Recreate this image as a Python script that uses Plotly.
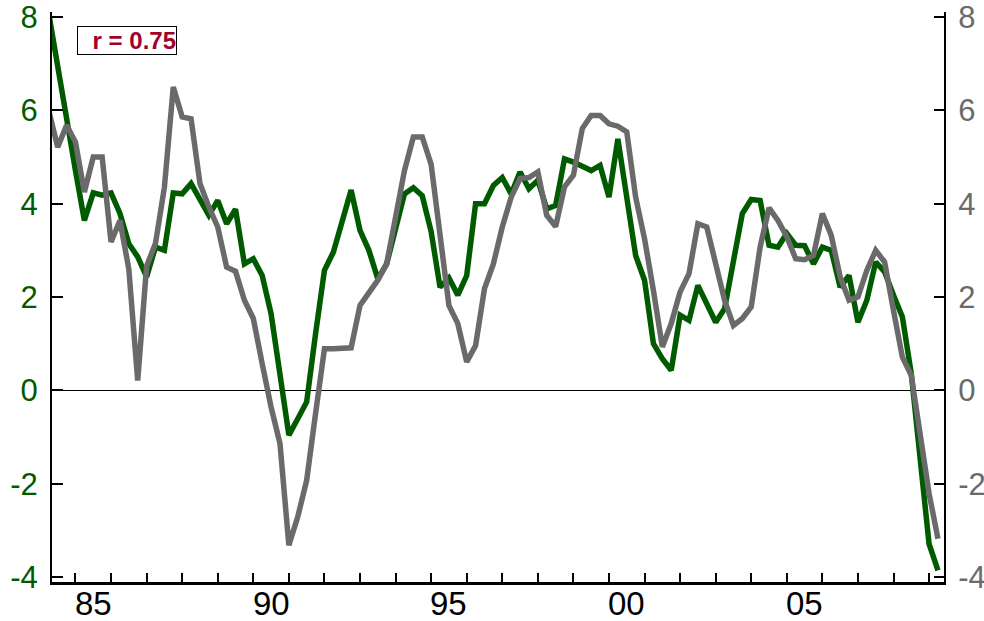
import plotly.graph_objects as go

# Quarterly dates (first point lies just left of the visible range)
quarters = [1984.25 + 0.25 * i for i in range(101)]

green_series = [
    8.07, 6.9, 5.8, 4.71, 3.64, 4.23, 4.18, 4.23, 3.79, 3.14,
    2.86, 2.43, 3.07, 3.0, 4.23, 4.21, 4.43, 4.07, 3.75, 4.07,
    3.57, 3.88, 2.71, 2.82, 2.46, 1.64, 0.36, -0.96, -0.61, -0.25,
    1.21, 2.57, 2.96, 3.61, 4.29, 3.43, 3.0, 2.39, 2.71, 3.46,
    4.21, 4.34, 4.17, 3.4, 2.21, 2.41, 2.04, 2.46, 4.0, 4.0,
    4.39, 4.56, 4.21, 4.68, 4.32, 4.5, 3.89, 3.96, 4.96, 4.89,
    4.8, 4.71, 4.82, 4.14, 5.39, 4.14, 2.89, 2.36, 1.0, 0.68,
    0.43, 1.61, 1.5, 2.25, 1.86, 1.46, 1.75, 2.79, 3.79, 4.09,
    4.07, 3.11, 3.07, 3.36, 3.11, 3.1, 2.71, 3.07, 3.0, 2.21,
    2.46, 1.46, 1.93, 2.75, 2.54, 2.04, 1.57, 0.36, -1.5, -3.29,
    -3.86,
]

gray_series = [
    5.99, 5.21, 5.68, 5.32, 4.25, 5.0, 5.0, 3.18, 3.64, 2.6,
    0.21, 2.66, 3.15, 4.35, 6.5, 5.86, 5.82, 4.43, 3.93, 3.5,
    2.64, 2.55, 1.93, 1.54, 0.57, -0.36, -1.14, -3.32, -2.71, -1.93,
    -0.5, 0.89, 0.89, 0.91, 0.91, 1.82, 2.1, 2.36, 2.71, 3.64,
    4.71, 5.43, 5.43, 4.84, 3.43, 1.82, 1.43, 0.61, 0.96, 2.18,
    2.71, 3.5, 4.14, 4.54, 4.56, 4.68, 3.75, 3.51, 4.36, 4.61,
    5.61, 5.89, 5.89, 5.71, 5.66, 5.54, 4.14, 3.25, 2.14, 0.93,
    1.43, 2.11, 2.5, 3.57, 3.5, 2.71, 1.93, 1.39, 1.54, 1.79,
    3.07, 3.91, 3.64, 3.29, 2.82, 2.8, 2.89, 3.79, 3.32, 2.43,
    1.93, 2.0, 2.57, 3.0, 2.75, 1.71, 0.71, 0.32, -0.93, -2.21,
    -3.18,
]

year_label_pos = [1985.5, 1990.5, 1995.5, 2000.5, 2005.5]
year_labels = ["85", "90", "95", "00", "05"]
y_ticks = [-4, -2, 0, 2, 4, 6, 8]
y_labels = ["-4", "-2", "0", "2", "4", "6", "8"]

GREEN = "#005A00"
GRAY = "#6A6A6A"
FONT = "Liberation Sans, Arial, sans-serif"

fig = go.Figure()
fig.add_trace(go.Scatter(x=quarters, y=gray_series, mode="lines",
                         line=dict(color=GRAY, width=5.5), yaxis="y2",
                         showlegend=False, hoverinfo="skip"))
fig.add_trace(go.Scatter(x=quarters, y=green_series, mode="lines",
                         line=dict(color=GREEN, width=5.5), yaxis="y",
                         showlegend=False, hoverinfo="skip"))

annotations = [dict(
    xref="paper", yref="paper", x=0.0277, y=0.975,
    xanchor="left", yanchor="top",
    text="<b>r = 0.75</b>", showarrow=False,
    font=dict(size=24, color="#A1002B", family=FONT),
    bordercolor="black", borderwidth=1, borderpad=0,
    bgcolor="white", align="right", width=98,
)]
for pos, lab in zip(year_label_pos, year_labels):
    annotations.append(dict(
        xref="x", yref="paper", x=pos, y=0, xanchor="center", yanchor="top",
        text=lab, showarrow=False, yshift=-2, borderpad=0,
        font=dict(size=33, color="black", family=FONT),
    ))

yr = [-4.107, 8.107]
fig.update_layout(
    width=984, height=621,
    margin=dict(l=52, r=40, t=12, b=39, autoexpand=False),
    paper_bgcolor="white", plot_bgcolor="white",
    font=dict(family=FONT),
    xaxis=dict(
        range=[1984.34, 2009.42], automargin=False,
        tickmode="array", tickvals=year_label_pos, ticktext=year_labels,
        showticklabels=False,
        ticks="", showgrid=False, zeroline=False,
        showline=True, linecolor="black", linewidth=2.5,
        minor=dict(tickmode="linear", tick0=1985, dtick=1, ticks="inside",
                   ticklen=9, tickwidth=1.5, tickcolor="black", showgrid=False),
    ),
    yaxis=dict(
        range=yr, automargin=False,
        tickmode="array", tickvals=y_ticks, ticktext=y_labels,
        ticks="inside", ticklen=11, tickwidth=2, tickcolor="black",
        showgrid=False, zeroline=True, zerolinecolor="black", zerolinewidth=1,
        showline=True, linecolor="black", linewidth=2,
        tickfont=dict(size=31, color=GREEN), ticklabelstandoff=6,
        ticklabeloverflow="allow",
    ),
    yaxis2=dict(
        range=yr, overlaying="y", side="right", automargin=False,
        tickmode="array", tickvals=y_ticks, ticktext=y_labels,
        ticks="inside", ticklen=10, tickwidth=2, tickcolor="black",
        showgrid=False, zeroline=False,
        showline=True, linecolor="black", linewidth=2,
        tickfont=dict(size=31, color=GRAY), ticklabelstandoff=6,
        ticklabeloverflow="allow",
    ),
    annotations=annotations,
)

fig.write_html("out.html")
